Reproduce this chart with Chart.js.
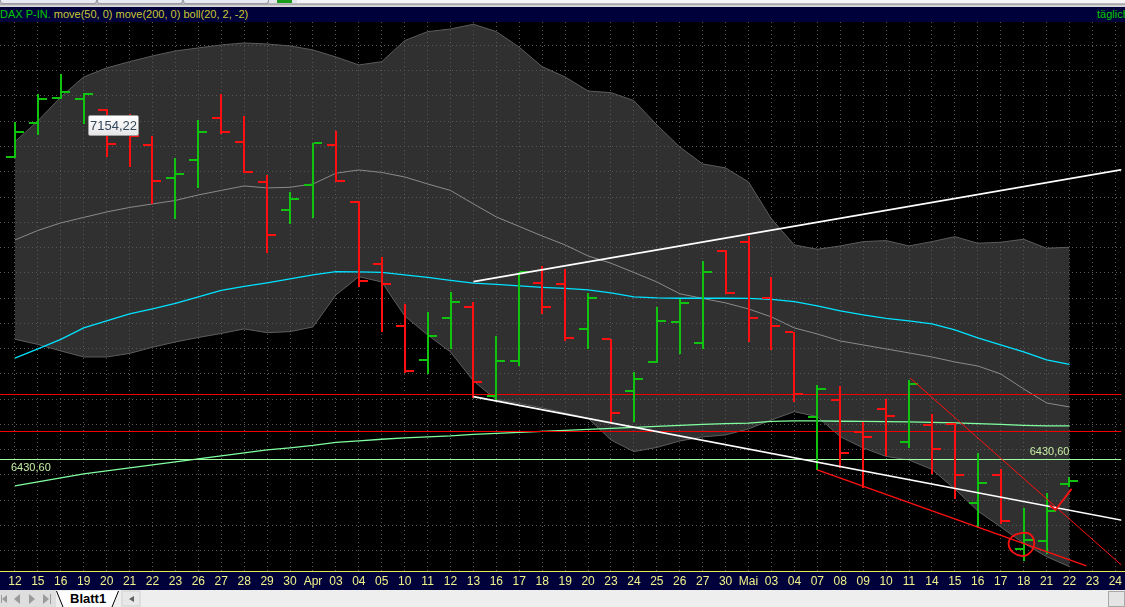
<!DOCTYPE html>
<html>
<head>
<meta charset="utf-8">
<title>DAX P-IN. täglich</title>
<script src="https://cdn.jsdelivr.net/npm/chart.js@4.4.0/dist/chart.umd.min.js"></script>
<style>
  html, body { margin: 0; padding: 0; }
  body {
    width: 1125px; height: 607px; overflow: hidden; position: relative;
    background: #000; font-family: "Liberation Sans", Arial, sans-serif;
  }
  #toolbar {
    position: absolute; left: 0; top: 0; width: 1125px; height: 7px;
    background: linear-gradient(#e4e4ec 0, #e4e4ec 3px, #8e8e8e 4px, #c4c4c4 5px, #dadada 6px);
  }
  .btn {
    position: absolute; top: 0; height: 3px; background: #e9e9f1;
    border: 1px solid #9a9aa4; border-top: none; border-radius: 0 0 3px 3px;
  }
  #titlebar {
    position: absolute; left: 0; top: 7px; width: 1125px; height: 15px;
    background: #00003a; font-size: 11px; line-height: 15px;
    white-space: nowrap; overflow: hidden;
  }
  #titlebar .name { color: #00c800; }
  #titlebar .ind  { color: #c8c832; }
  #titlebar .freq { position: absolute; left: 1097px; top: 0; color: #00c800; }
  #axisband {
    position: absolute; left: 0; top: 571px; width: 1125px; height: 19px;
    background: #00003a; border-top: 1px solid #e6e65a;
  }
  #wrap { position: absolute; left: 0; top: 22px; width: 1125px; height: 568px; }
  #tip {
    position: absolute; left: 88px; top: 115px; width: 49px; height: 19px;
    border: 1px solid #9c9c9c; border-radius: 2px;
    background: linear-gradient(#ffffff, #e6e6e6);
    color: #34475a; font-size: 13px; line-height: 19px; text-align: center;
  }
  #sheetbar { position: absolute; left: 0; top: 590px; width: 1125px; height: 17px; }
</style>
</head>
<body>

<div id="toolbar">
  <div class="btn" style="left:0;width:95px"></div>
  <div class="btn" style="left:97px;width:84px"></div>
  <div class="btn" style="left:183px;width:84px"></div>
  <div style="position:absolute;left:277px;top:0;width:15px;height:3px;background:#1c9c1c"></div>
  <div style="position:absolute;left:297px;top:0;width:828px;height:3px;background:#f4f4f6"></div>
</div>

<div id="titlebar">
  <span class="name">DAX P-IN.</span> <span class="ind">move(50, 0) move(200, 0) boll(20, 2, -2)</span>
  <span class="freq">täglich</span>
</div>

<div id="axisband"></div>

<div id="wrap"><canvas id="daxChart"></canvas></div>

<div id="tip">7154,22</div>

<div id="sheetbar">
  <svg width="1125" height="17" xmlns="http://www.w3.org/2000/svg">
    <rect x="0" y="0" width="1125" height="17" fill="#eeeeee"/>
    <rect x="0" y="0" width="56" height="17" fill="#dedede"/>
    <!-- navigation arrows -->
    <rect x="1" y="5" width="1" height="8" fill="#9a9a9a"/>
    <polygon points="2,9 7,5 7,13" fill="#9a9a9a"/>
    <polygon points="14,9 20,4 20,14" fill="#9a9a9a"/>
    <polygon points="35,9 29,4 29,14" fill="#9a9a9a"/>
    <polygon points="49,9 43,4 43,14" fill="#9a9a9a"/>
    <rect x="50" y="4" width="1" height="10" fill="#9a9a9a"/>
    <!-- sheet tab -->
    <polygon points="56,1 63,17 112,17 119,1" fill="#ffffff"/>
    <line x1="56.5" y1="1" x2="63" y2="17" stroke="#000" stroke-width="1"/>
    <line x1="118.5" y1="1" x2="112" y2="17" stroke="#000" stroke-width="1"/>
    <text x="70" y="13" font-family="Liberation Sans, Arial, sans-serif" font-size="13" font-weight="bold" fill="#000">Blatt1</text>
    <rect x="122" y="1" width="18" height="15" fill="#e8e8e8" stroke="#cfcfcf"/>
    <polygon points="129,9 134,6 134,12" fill="#606060"/>
    <rect x="1108.5" y="1.5" width="16" height="15" fill="#e4e4e4" stroke="#a8a8a8"/>
  </svg>
</div>

<script>
/* ---- x-axis day labels (12. März – 24. Mai) ---- */
var dayLabels = ['12', '15', '16', '19', '20', '21', '22', '23', '26', '27', '28', '29', '30',
  'Apr', '03', '04', '05', '10', '11', '12', '13', '16', '17', '18', '19', '20', '23', '24',
  '25', '26', '27', '30', 'Mai', '03', '04', '07', '08', '09', '10', '11', '14', '15', '16',
  '17', '18', '21', '22', '23', '24'];

/* ---- daily OHLC ---- */
var opens = [7029.9, 7095.9, 7146.6, 7144.0, 7122.8, 7092.6, 7053.0, 6988.3, 7023.9, 7107.0,
  7058.3, 6980.4, 6924.4, 6974.5, 7053.6, 6940.8, 6817.5, 6694.9, 6627.6, 6710.7,
  6733.1, 6556.4, 6626.2, 6780.6, 6777.4, 6688.9, 6668.6, 6566.3, 6623.6, 6703.4,
  6661.8, 6843.9, 6861.7, 6749.7, 6683.0, 6515.4, 6549.1, 6484.5, 6530.7, 6466.0,
  6499.0, 6501.0, 6345.3, 6400.7, 6253.7, 6270.1, 6382.3];
var highs = [7099.1, 7154.2, 7193.5, 7155.3, 7123.6, 7114.3, 7070.8, 7026.7, 7102.5, 7153.9,
  7110.4, 6993.6, 6959.4, 7057.6, 7080.7, 6942.2, 6832.0, 6738.4, 6722.0, 6762.1,
  6741.8, 6675.1, 6802.3, 6813.6, 6807.1, 6759.6, 6668.6, 6603.3, 6731.9, 6747.7,
  6824.1, 6845.2, 6872.9, 6791.2, 6683.6, 6578.1, 6576.2, 6505.5, 6549.8, 6588.0,
  6520.8, 6502.4, 6443.0, 6411.3, 6334.2, 6363.9, 6396.7];
var lows = [7028.7, 7074.2, 7145.4, 7095.9, 7031.8, 7012.0, 6937.6, 6909.2, 6970.5, 7077.3,
  6999.0, 6841.9, 6899.3, 6911.1, 6982.4, 6774.0, 6685.6, 6604.5, 6602.5, 6651.9,
  6553.8, 6548.5, 6618.3, 6720.0, 6667.2, 6651.9, 6502.4, 6507.5, 6623.6, 6642.0,
  6651.9, 6760.8, 6665.8, 6648.8, 6547.1, 6411.3, 6415.3, 6376.9, 6439.6, 6454.9,
  6404.6, 6354.0, 6297.8, 6304.5, 6231.9, 6246.3, 6378.3];
var closes = [7079.3, 7144.6, 7157.9, 7154.5, 7055.0, 7070.8, 6982.4, 6995.6, 7079.3, 7079.3,
  7000.2, 6875.5, 6946.8, 7057.6, 6982.4, 6784.5, 6777.4, 6606.4, 6675.1, 6743.0,
  6584.7, 6626.2, 6802.3, 6733.1, 6671.7, 6750.3, 6523.3, 6590.6, 6705.4, 6741.0,
  6801.7, 6760.8, 6710.7, 6694.9, 6560.3, 6570.2, 6443.6, 6475.8, 6516.8, 6580.1,
  6452.1, 6400.7, 6384.8, 6309.6, 6271.5, 6329.4, 6388.8];

/* ---- boll(20, 2) ---- */
var bollUpper = [7059.5, 7100.5, 7148.0, 7187.5, 7205.4, 7217.8, 7229.1, 7239.0, 7244.9, 7250.9,
  7254.8, 7252.8, 7248.9, 7241.0, 7227.1, 7211.3, 7217.8, 7259.4, 7277.2, 7282.5,
  7291.8, 7277.2, 7246.3, 7207.9, 7187.5, 7159.8, 7156.5, 7140.7, 7092.6, 7049.0,
  7015.4, 7007.5, 6979.8, 6906.6, 6855.1, 6846.6, 6853.2, 6861.7, 6863.7, 6853.2,
  6861.7, 6871.6, 6858.5, 6860.5, 6866.4, 6848.6, 6850.6];
var bollMid = [6865.0, 6883.8, 6898.7, 6909.6, 6920.4, 6929.3, 6936.3, 6943.2, 6954.1, 6963.0,
  6971.9, 6967.9, 6969.3, 6975.8, 6997.0, 7003.5, 6998.6, 6989.7, 6975.8, 6963.0,
  6936.3, 6910.5, 6891.7, 6872.9, 6855.1, 6833.4, 6818.9, 6800.7, 6781.9, 6758.6,
  6749.3, 6740.4, 6728.5, 6712.7, 6690.9, 6679.0, 6665.2, 6657.3, 6649.4, 6641.5,
  6633.5, 6623.6, 6615.7, 6599.9, 6570.2, 6542.5, 6534.6];
var bollLower = [6668.6, 6658.3, 6645.4, 6633.5, 6633.5, 6640.5, 6652.7, 6663.2, 6672.1, 6680.0,
  6689.0, 6681.6, 6683.6, 6692.9, 6756.2, 6792.4, 6781.9, 6714.7, 6677.1, 6643.4,
  6586.1, 6548.5, 6541.5, 6532.6, 6522.7, 6512.3, 6469.3, 6446.2, 6454.5, 6467.3,
  6475.3, 6479.2, 6491.1, 6508.9, 6525.3, 6515.4, 6475.8, 6453.5, 6436.7, 6429.7,
  6411.0, 6372.4, 6328.8, 6297.2, 6264.9, 6238.4, 6218.6];

/* ---- move(50) / move(200) ---- */
var ma50 = [6631.0, 6649.4, 6668.2, 6690.9, 6704.8, 6718.6, 6728.5, 6739.4, 6752.3, 6765.1,
  6773.0, 6780.0, 6787.9, 6795.8, 6802.3, 6801.7, 6800.7, 6795.8, 6790.8, 6784.9,
  6779.4, 6777.0, 6774.0, 6771.1, 6769.1, 6766.1, 6760.2, 6752.3, 6750.3, 6749.7,
  6749.7, 6749.7, 6749.3, 6747.3, 6743.0, 6734.5, 6724.6, 6716.6, 6709.7, 6704.8,
  6698.8, 6687.0, 6671.1, 6657.3, 6643.4, 6627.6, 6618.7];
var ma200 = [6378.3, 6386.2, 6394.1, 6402.0, 6408.0, 6413.9, 6419.8, 6425.8, 6431.7, 6437.7,
  6443.6, 6449.5, 6453.5, 6458.4, 6464.4, 6467.3, 6470.7, 6473.3, 6475.3, 6477.2,
  6480.2, 6482.2, 6484.2, 6486.1, 6488.1, 6490.1, 6492.1, 6494.0, 6496.0, 6498.0,
  6500.0, 6501.4, 6502.4, 6505.9, 6506.9, 6506.9, 6506.3, 6505.9, 6505.5, 6504.9,
  6503.9, 6503.0, 6501.6, 6500.0, 6498.0, 6497.0, 6497.0];

/* ---- drawn levels and trend lines: [dayIndex, price] ---- */
var redLevels = [6559.2, 6486.0];
var supportLevel = 6430.6;
var trendUpperWhite = [[20, 6782.5], [48.3, 7004.3]];
var trendLowerWhite = [[20, 6555.0], [48.3, 6310.4]];
var trendLowerRed = [[35, 6410.0], [46.74, 6220.0]];
var trendUpperRed = [[39.06, 6591.4], [48.3, 6220.4]];
var circleMark = [[43.99, 6285.9], [44.27, 6283.3], [44.45, 6271.5], [44.42, 6255.0],
  [44.20, 6243.2], [43.91, 6239.8], [43.55, 6246.3], [43.36, 6258.2], [43.38, 6271.5],
  [43.62, 6281.4], [43.99, 6285.9]];
var checkMark = [[45.13, 6340.7], [45.39, 6330.8], [46.09, 6372.4]];

var GREEN = '#0fc30f';
var RED = '#ff1010';

function series(arr) {
  return arr.map(function (v, i) { return { x: i, y: v }; });
}
function pairs(arr) {
  return arr.map(function (p) { return { x: p[0], y: p[1] }; });
}
function level(v) {
  return [{ x: -2, y: v }, { x: 50, y: v }];
}
function lineSet(data, color, width, order, extra) {
  var ds = {
    data: data, borderColor: color, borderWidth: width, pointRadius: 0,
    fill: false, tension: 0, order: order
  };
  for (var k in extra) ds[k] = extra[k];
  return ds;
}

/* OHLC bars, drawn after the horizontal levels and before the trend lines */
var ohlcPlugin = {
  id: 'ohlcBars',
  afterDatasetDraw: function (chart, args) {
    if (args.index !== 5) return;
    var ctx = chart.ctx, x = chart.scales.x, y = chart.scales.y;
    ctx.save();
    for (var i = 0; i < opens.length; i++) {
      var px = Math.round(x.getPixelForValue(i));
      var yh = Math.round(y.getPixelForValue(highs[i]));
      var yl = Math.round(y.getPixelForValue(lows[i]));
      var yo = Math.round(y.getPixelForValue(opens[i]));
      var yc = Math.round(y.getPixelForValue(closes[i]));
      ctx.fillStyle = closes[i] >= opens[i] ? GREEN : RED;
      ctx.fillRect(px - 1, yh, 2, yl - yh + 1);
      ctx.fillRect(px - 9, yo - 1, 8, 2);
      ctx.fillRect(px + 1, yc - 1, 8, 2);
    }
    ctx.restore();
  }
};

/* value tags of the 6430,60 line */
var levelTagPlugin = {
  id: 'levelTags',
  afterDraw: function (chart) {
    var ctx = chart.ctx, x = chart.scales.x, y = chart.scales.y;
    var py = y.getPixelForValue(supportLevel);
    var txt = supportLevel.toFixed(2).replace('.', ',');
    ctx.save();
    ctx.font = '11px "Liberation Sans", Arial, sans-serif';
    ctx.fillStyle = '#c6eea6';
    ctx.textBaseline = 'middle';
    ctx.textAlign = 'left';
    ctx.fillText(txt, chart.chartArea.left + 11, py + 8);
    ctx.textAlign = 'right';
    ctx.fillText(txt, x.getPixelForValue(opens.length - 1), py - 8);
    ctx.restore();
  }
};

var ctx = document.getElementById('daxChart').getContext('2d');
new Chart(ctx, {
  type: 'line',
  data: {
    datasets: [
      lineSet(series(bollUpper), '#5c5c5c', 1, 10, { fill: '+1', backgroundColor: '#303030' }),
      lineSet(series(bollLower), '#5c5c5c', 1, 10),
      lineSet(series(bollMid), '#8a8a8a', 1, 9),
      lineSet(series(ma50), '#00e2ff', 1.3, 8),
      lineSet(series(ma200), '#80ffa0', 1.3, 8),
      lineSet(level(supportLevel), '#a0ffa0', 1, 7),
      lineSet(level(redLevels[0]), '#f00000', 1, 7),
      lineSet(level(redLevels[1]), '#f00000', 1, 7),
      lineSet(pairs(trendUpperWhite), '#ffffff', 1.6, 3),
      lineSet(pairs(trendLowerWhite), '#ffffff', 1.6, 3),
      lineSet(pairs(trendLowerRed), '#ff1010', 1.4, 3),
      lineSet(pairs(trendUpperRed), '#ff1010', 1, 3),
      lineSet(pairs(circleMark), '#ff1010', 1.8, 2, { tension: 0.45 }),
      lineSet(pairs(checkMark), '#ff1010', 1.8, 2)
    ]
  },
  options: {
    responsive: true,
    maintainAspectRatio: false,
    animation: false,
    events: [],
    layout: { padding: 0 },
    plugins: {
      legend: { display: false },
      tooltip: { enabled: false },
      filler: { drawTime: 'beforeDraw' }
    },
    scales: {
      x: {
        type: 'linear',
        min: -0.652,
        max: 48.26,
        grid: { color: '#585858', drawTicks: false },
        border: { display: false, dash: [1, 3] },
        ticks: {
          stepSize: 1,
          autoSkip: false,
          maxRotation: 0,
          includeBounds: false,
          padding: 3,
          color: '#f2f28c',
          font: { family: '"Liberation Sans", Arial, sans-serif', size: 12 },
          callback: function (value) { return dayLabels[value] || ''; }
        },
        afterFit: function (scale) { scale.height = 19; }
      },
      y: {
        min: 6209.98,
        max: 7296.28,
        grid: { color: '#585858', drawTicks: false },
        border: { display: false, dash: [1, 3] },
        ticks: { display: false, stepSize: 50, includeBounds: false },
        afterFit: function (scale) { scale.width = 0; }
      }
    }
  },
  plugins: [ohlcPlugin, levelTagPlugin]
});
</script>
</body>
</html>
